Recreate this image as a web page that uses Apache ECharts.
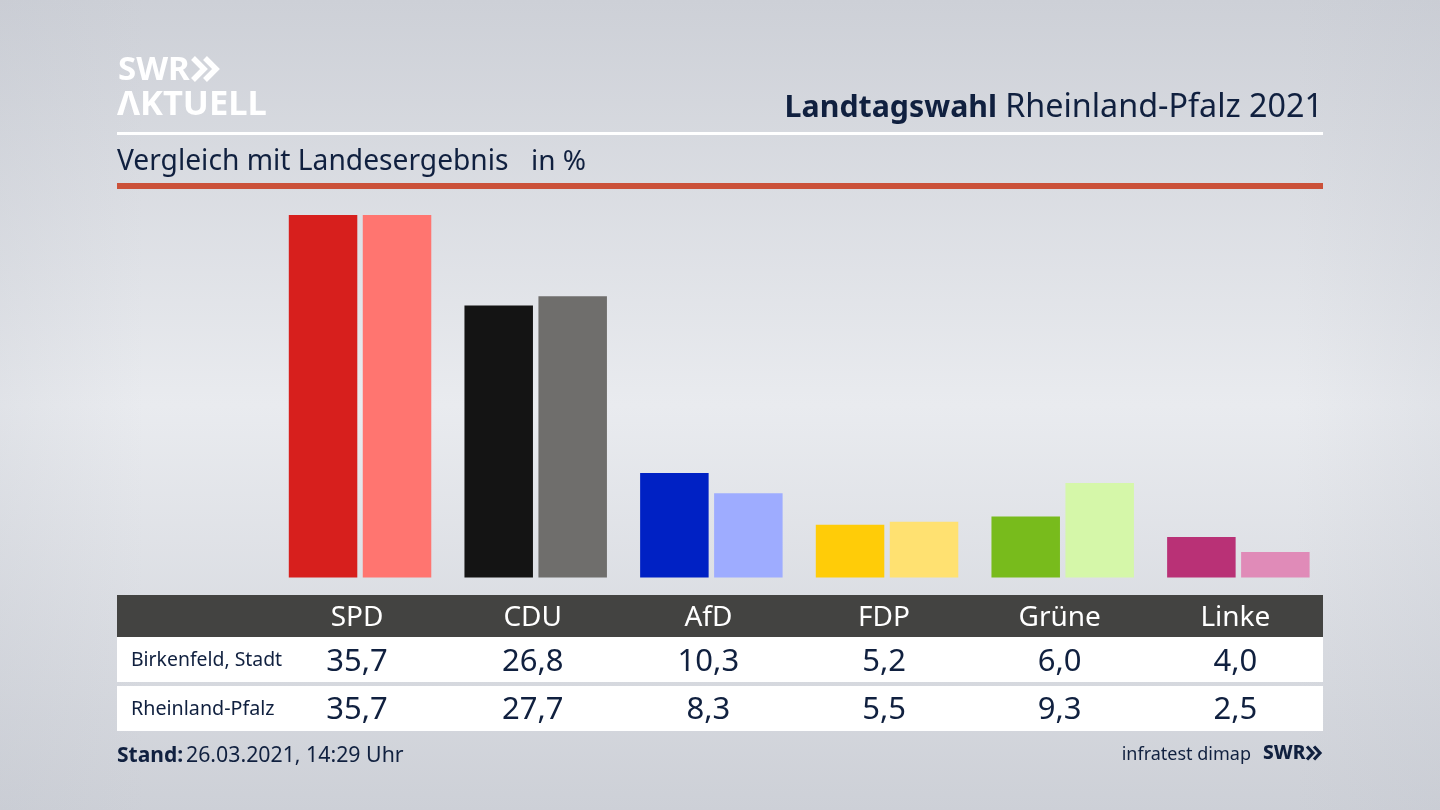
<!DOCTYPE html>
<html><head><meta charset="utf-8">
<style>html,body{margin:0;padding:0;background:#d5d8de}#c{width:1440px;height:810px}</style>
<script src="https://cdn.jsdelivr.net/npm/echarts@6/dist/echarts.min.js"></script>
</head><body><div id="c"></div>
<script>
const categories = ['SPD','CDU','AfD','FDP','Grüne','Linke'];
const localName = 'Birkenfeld, Stadt';
const stateName = 'Rheinland-Pfalz';
const localValues = [35.7,26.8,10.3,5.2,6.0,4.0];
const stateValues = [35.7,27.7,8.3,5.5,9.3,2.5];
const localColors = ['#d71f1d','#141414','#0021c4','#ffcc08','#78bb1c','#b93176'];
const stateColors = ['#ff7570','#6f6e6c','#9eacff','#ffe171','#d5f7a9','#e08bb8'];
const navy = '#10203f';
const font = '"Noto Sans"';
const fmt = v => v.toFixed(1).replace('.',',');
const chart = echarts.init(document.getElementById('c'),null,{renderer:'canvas'});
const rect = (x,y,w,h,fill,z) => ({type:'rect',shape:{x,y,width:w,height:h},style:{fill},z:z,silent:true});
const text = (x,y,t,size,fill,weight,align) => ({type:'text',x,y,z:10,silent:true,style:{text:t,font:`${weight||400} ${size}px ${font}`,fill,textAlign:align||'left',textVerticalAlign:'middle'}});
const chev = (x,y,h,w,stroke,lw) => ({type:'polyline',z:10,silent:true,shape:{points:[[x,y-h],[x+w,y],[x,y+h]]},style:{stroke,lineWidth:lw,fill:'none'}});
chart.setOption({
  animation:false,
  backgroundColor:{type:'linear',x:0,y:0,x2:0,y2:1,colorStops:[
    {offset:0,color:'#cdd0d7'},{offset:0.5,color:'#e9ebef'},{offset:1,color:'#cdd0d7'}]},
  graphic:[
    {type:'rect',shape:{x:0,y:0,width:1440,height:810},z:-10,silent:true,style:{fill:{type:'linear',x:0,y:0,x2:1,y2:0,colorStops:[
      {offset:0,color:'rgba(190,194,203,0.2)'},{offset:0.1,color:'rgba(190,194,203,0)'},{offset:0.9,color:'rgba(190,194,203,0)'},{offset:1,color:'rgba(190,194,203,0.2)'}]}}},
    text(118,71,'SWR',33,'#ffffff',700),
    chev(193,69,11,11,'#ffffff',5.5),
    chev(205,69,11,11,'#ffffff',5.5),
    text(117,105.5,'ΛKTUELL',34.5,'#ffffff',700),
    rect(117,132,1206,3,'#ffffff',1),
    rect(117,183,1206,6,'#cb5139',1),
    text(1323,108,'Rheinland-Pfalz 2021',32.3,navy,400,'right'),
    text(997,108,'Landtagswahl',30.3,navy,700,'right'),
    text(117,162,'Vergleich mit Landesergebnis',28.2,navy,400),
    text(531,162,'in %',28,navy,400),
    rect(117,595,1206,42,'#434341',1),
    rect(117,637,1206,45,'#ffffff',1),
    rect(117,686,1206,45,'#ffffff',1),
    text(131,660.5,localName,19.4,navy,400),
    text(131,709,stateName,19.7,navy,400),
    text(117,756,'Stand:',21,navy,700),
    text(186,756,'26.03.2021, 14:29 Uhr',21.3,navy,400),
    text(1251,755,'infratest dimap',18,navy,400,'right'),
    text(1263,754,'SWR',19,navy,800),
    chev(1307,753,6.5,6,navy,3.2),
    chev(1314,753,6.5,6,navy,3.2)
  ],
  grid:{left:272.2,right:113.8,top:212,height:365.5,containLabel:false},
  xAxis:{type:'category',data:categories,
    axisLine:{show:false},axisTick:{show:false},
    axisLabel:{show:true,interval:0,margin:20,align:'center',verticalAlign:'top',padding:[0,6,0,0],
      formatter:(name,i)=>`{h|${name}}\n{a|${fmt(localValues[i])}}\n{b|${fmt(stateValues[i])}}`,
      rich:{
        h:{fontFamily:font,fontSize:28,color:'#ffffff',height:42,lineHeight:42,align:'center'},
        a:{fontFamily:font,fontSize:31,color:navy,height:46,lineHeight:46,align:'center'},
        b:{fontFamily:font,fontSize:31,color:navy,height:50,lineHeight:50,align:'center'}
      }},
    z:5},
  yAxis:{type:'value',min:0,max:36,show:false,splitLine:{show:false}},
  series:[
    {name:localName,type:'bar',barWidth:68.5,barGap:'8%',silent:true,
     data:localValues.map((v,i)=>({value:v,itemStyle:{color:localColors[i]}}))},
    {name:stateName,type:'bar',barWidth:68.5,barGap:'8%',silent:true,
     data:stateValues.map((v,i)=>({value:v,itemStyle:{color:stateColors[i]}}))}
  ]
});
</script></body></html>
